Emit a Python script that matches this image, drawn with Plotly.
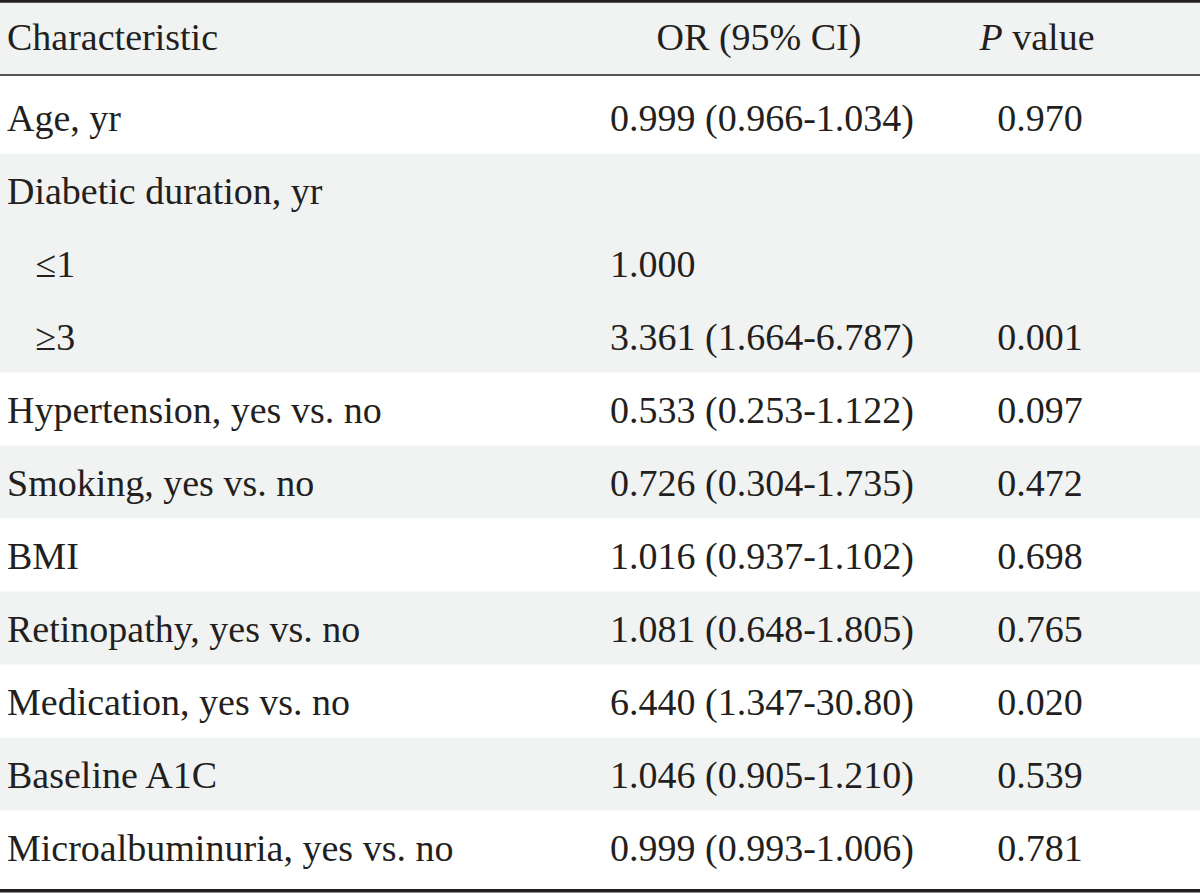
import plotly.graph_objects as go

# ---- data ----
characteristics = [
    "Age, yr",
    "Diabetic duration, yr",
    "\u00a0\u00a0\u00a0≤1",
    "\u00a0\u00a0\u00a0≥3",
    "Hypertension, yes vs. no",
    "Smoking, yes vs. no",
    "BMI",
    "Retinopathy, yes vs. no",
    "Medication, yes vs. no",
    "Baseline A1C",
    "Microalbuminuria, yes vs. no",
]
odds_ratios = [
    "0.999 (0.966-1.034)",
    "",
    "1.000",
    "3.361 (1.664-6.787)",
    "0.533 (0.253-1.122)",
    "0.726 (0.304-1.735)",
    "1.016 (0.937-1.102)",
    "1.081 (0.648-1.805)",
    "6.440 (1.347-30.80)",
    "1.046 (0.905-1.210)",
    "0.999 (0.993-1.006)",
]
p_values = ["0.970", "", "", "0.001", "0.097", "0.472", "0.698", "0.765", "0.020", "0.539", "0.781"]
header_labels = ["Characteristic", "OR (95% CI)", "<i>P</i> value"]
shaded_rows = [False, True, True, True, False, True, False, True, False, True, False]

# ---- style ----
GRAY = "#f1f3f3"
TEXT = "#231f20"
FONT = dict(family="Liberation Serif", size=38, color=TEXT)

n = len(characteristics)
rows = list(range(n))
PAD = 0.075           # extra padding on first / last body row (row units)
HEADER_Y = -1.05      # header text centre (row units)
Y_TOP = -1.603        # top of figure in row units
Y_BOT = 10.630        # bottom of figure in row units
body_top = -0.5 - PAD
body_bot = n - 0.5 + PAD

TEXT_DY = 0.06        # slight downward nudge so glyphs sit visually centred

fig = go.Figure()

# column 1: characteristics (left aligned)
fig.add_trace(go.Scatter(
    x=[7] * n, y=[r + TEXT_DY for r in rows], text=characteristics,
    mode="text", textposition="middle right", textfont=FONT,
    hoverinfo="skip", showlegend=False, cliponaxis=False))
# column 2: OR (95% CI) (left aligned)
fig.add_trace(go.Scatter(
    x=[610] * n, y=[r + TEXT_DY for r in rows], text=odds_ratios,
    mode="text", textposition="middle right", textfont=FONT,
    hoverinfo="skip", showlegend=False, cliponaxis=False))
# column 3: P value (centred)
fig.add_trace(go.Scatter(
    x=[1040] * n, y=[r + TEXT_DY for r in rows], text=p_values,
    mode="text", textposition="middle center", textfont=FONT,
    hoverinfo="skip", showlegend=False, cliponaxis=False))
# header
fig.add_trace(go.Scatter(
    x=[7, 759, 1037], y=[HEADER_Y] * 3, text=header_labels,
    mode="text", textposition=["middle right", "middle center", "middle center"],
    textfont=FONT, hoverinfo="skip", showlegend=False, cliponaxis=False))

shapes = []
# header background
shapes.append(dict(type="rect", xref="paper", yref="y", x0=0, x1=1, y0=Y_TOP, y1=body_top,
                   fillcolor=GRAY, line=dict(width=0), layer="below"))
# body row backgrounds: merge consecutive shaded rows into one band
r = 0
while r < n:
    if shaded_rows[r]:
        start = r
        while r + 1 < n and shaded_rows[r + 1]:
            r += 1
        y0 = body_top if start == 0 else start - 0.5
        y1 = body_bot if r == n - 1 else r + 0.5
        shapes.append(dict(type="rect", xref="paper", yref="y", x0=0, x1=1, y0=y0, y1=y1,
                           fillcolor=GRAY, line=dict(width=0), layer="below"))
    r += 1
# rules
shapes.append(dict(type="line", xref="paper", yref="paper", x0=0, x1=1,
                   y0=1 - 1.4 / 893, y1=1 - 1.4 / 893, line=dict(color=TEXT, width=2.8)))
shapes.append(dict(type="line", xref="paper", yref="y", x0=0, x1=1,
                   y0=body_top, y1=body_top, line=dict(color=TEXT, width=1.5)))
shapes.append(dict(type="line", xref="paper", yref="y", x0=0, x1=1,
                   y0=body_bot + 0.025, y1=body_bot + 0.025, line=dict(color=TEXT, width=3.5)))

fig.update_layout(
    width=1200,
    height=893,
    margin=dict(l=0, r=0, t=0, b=0),
    paper_bgcolor="white",
    plot_bgcolor="white",
    shapes=shapes,
    xaxis=dict(range=[0, 1200], visible=False, fixedrange=True),
    yaxis=dict(range=[Y_BOT, Y_TOP], visible=False, fixedrange=True),
)

fig.write_html(
    "out.html",
    config={"displayModeBar": False},
    post_script="document.body.style.margin='0';document.body.style.overflow='hidden';",
)
